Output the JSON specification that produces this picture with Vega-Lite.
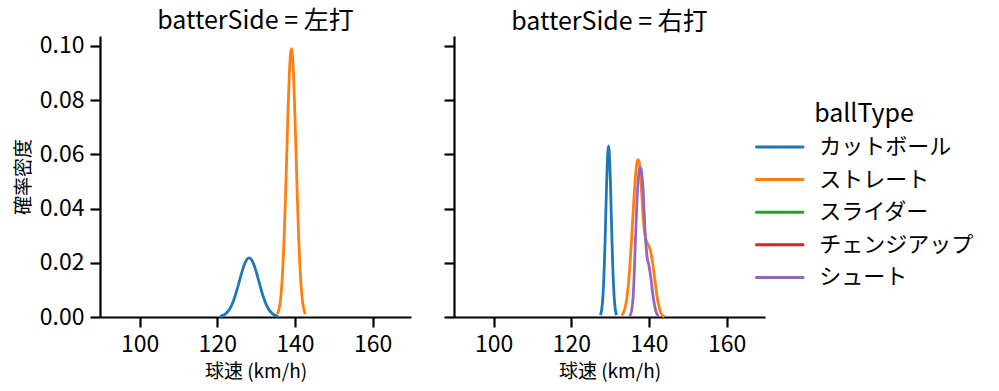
{
  "$schema": "https://vega.github.io/schema/vega-lite/v6.json",
  "padding": {"left": 14, "top": 8, "right": 5, "bottom": 5},
  "config": {
    "font": "Noto Sans CJK JP",
    "view": {"stroke": null},
    "axis": {"grid": false, "domainColor": "black", "domainWidth": 2.2, "tickColor": "black", "tickWidth": 2.2, "tickSize": 10, "labelFontSize": 23, "labelColor": "black", "titleFontSize": 19, "titleFontWeight": "normal", "titleColor": "black", "labelPadding": 6, "titlePadding": 6},
    "title": {"fontSize": 25, "fontWeight": "normal", "color": "black"},
    "legend": {"symbolType": "M-2,0H2", "symbolStrokeWidth": 3, "symbolSize": 600, "symbolOffset": 10.75, "labelFontSize": 22, "labelColor": "black", "titleFontSize": 25, "titleFontWeight": "normal", "titleColor": "black", "labelOffset": 25.5, "titleAnchor": "middle", "rowPadding": 7.6, "titlePadding": 6, "padding": 0}
  },
  "data": {"values": [
    {"side": "左打", "type": "カットボール", "speed": 120.7, "density": 0.00024},
    {"side": "左打", "type": "カットボール", "speed": 121.33, "density": 0.0005},
    {"side": "左打", "type": "カットボール", "speed": 121.95, "density": 0.00096},
    {"side": "左打", "type": "カットボール", "speed": 122.58, "density": 0.00174},
    {"side": "左打", "type": "カットボール", "speed": 123.2, "density": 0.00295},
    {"side": "左打", "type": "カットボール", "speed": 123.83, "density": 0.00472},
    {"side": "左打", "type": "カットボール", "speed": 124.45, "density": 0.00708},
    {"side": "左打", "type": "カットボール", "speed": 125.08, "density": 0.00998},
    {"side": "左打", "type": "カットボール", "speed": 125.7, "density": 0.01322},
    {"side": "左打", "type": "カットボール", "speed": 126.33, "density": 0.01645},
    {"side": "左打", "type": "カットボール", "speed": 126.95, "density": 0.01924},
    {"side": "左打", "type": "カットボール", "speed": 127.58, "density": 0.02113},
    {"side": "左打", "type": "カットボール", "speed": 128.2, "density": 0.0218},
    {"side": "左打", "type": "カットボール", "speed": 128.83, "density": 0.02113},
    {"side": "左打", "type": "カットボール", "speed": 129.45, "density": 0.01924},
    {"side": "左打", "type": "カットボール", "speed": 130.08, "density": 0.01645},
    {"side": "左打", "type": "カットボール", "speed": 130.7, "density": 0.01322},
    {"side": "左打", "type": "カットボール", "speed": 131.33, "density": 0.00998},
    {"side": "左打", "type": "カットボール", "speed": 131.95, "density": 0.00708},
    {"side": "左打", "type": "カットボール", "speed": 132.58, "density": 0.00472},
    {"side": "左打", "type": "カットボール", "speed": 133.2, "density": 0.00295},
    {"side": "左打", "type": "カットボール", "speed": 133.83, "density": 0.00174},
    {"side": "左打", "type": "カットボール", "speed": 134.45, "density": 0.00096},
    {"side": "左打", "type": "カットボール", "speed": 135.08, "density": 0.0005},
    {"side": "左打", "type": "カットボール", "speed": 135.7, "density": 0.00024},
    {"side": "左打", "type": "ストレート", "speed": 135.5, "density": 0.0011},
    {"side": "左打", "type": "ストレート", "speed": 135.8, "density": 0.00225},
    {"side": "左打", "type": "ストレート", "speed": 136.1, "density": 0.00434},
    {"side": "左打", "type": "ストレート", "speed": 136.4, "density": 0.00787},
    {"side": "左打", "type": "ストレート", "speed": 136.7, "density": 0.01338},
    {"side": "左打", "type": "ストレート", "speed": 137.0, "density": 0.02139},
    {"side": "左打", "type": "ストレート", "speed": 137.3, "density": 0.03211},
    {"side": "左打", "type": "ストレート", "speed": 137.6, "density": 0.04528},
    {"side": "左打", "type": "ストレート", "speed": 137.9, "density": 0.05998},
    {"side": "左打", "type": "ストレート", "speed": 138.2, "density": 0.07465},
    {"side": "左打", "type": "ストレート", "speed": 138.5, "density": 0.08728},
    {"side": "左打", "type": "ストレート", "speed": 138.8, "density": 0.09585},
    {"side": "左打", "type": "ストレート", "speed": 139.1, "density": 0.0989},
    {"side": "左打", "type": "ストレート", "speed": 139.4, "density": 0.09585},
    {"side": "左打", "type": "ストレート", "speed": 139.7, "density": 0.08728},
    {"side": "左打", "type": "ストレート", "speed": 140.0, "density": 0.07465},
    {"side": "左打", "type": "ストレート", "speed": 140.3, "density": 0.05998},
    {"side": "左打", "type": "ストレート", "speed": 140.6, "density": 0.04528},
    {"side": "左打", "type": "ストレート", "speed": 140.9, "density": 0.03211},
    {"side": "左打", "type": "ストレート", "speed": 141.2, "density": 0.02139},
    {"side": "左打", "type": "ストレート", "speed": 141.5, "density": 0.01338},
    {"side": "左打", "type": "ストレート", "speed": 141.8, "density": 0.00787},
    {"side": "左打", "type": "ストレート", "speed": 142.1, "density": 0.00434},
    {"side": "左打", "type": "ストレート", "speed": 142.4, "density": 0.00225},
    {"side": "左打", "type": "ストレート", "speed": 142.7, "density": 0.0011},
    {"side": "右打", "type": "カットボール", "speed": 127.5, "density": 0.0007},
    {"side": "右打", "type": "カットボール", "speed": 127.85, "density": 0.00277},
    {"side": "右打", "type": "カットボール", "speed": 128.2, "density": 0.00852},
    {"side": "右打", "type": "カットボール", "speed": 128.375, "density": 0.01363},
    {"side": "右打", "type": "カットボール", "speed": 128.55, "density": 0.02046},
    {"side": "右打", "type": "カットボール", "speed": 128.725, "density": 0.02884},
    {"side": "右打", "type": "カットボール", "speed": 128.9, "density": 0.03821},
    {"side": "右打", "type": "カットボール", "speed": 129.075, "density": 0.04755},
    {"side": "右打", "type": "カットボール", "speed": 129.25, "density": 0.0556},
    {"side": "右打", "type": "カットボール", "speed": 129.425, "density": 0.06106},
    {"side": "右打", "type": "カットボール", "speed": 129.6, "density": 0.063},
    {"side": "右打", "type": "カットボール", "speed": 129.775, "density": 0.06106},
    {"side": "右打", "type": "カットボール", "speed": 129.95, "density": 0.0556},
    {"side": "右打", "type": "カットボール", "speed": 130.125, "density": 0.04755},
    {"side": "右打", "type": "カットボール", "speed": 130.3, "density": 0.03821},
    {"side": "右打", "type": "カットボール", "speed": 130.475, "density": 0.02884},
    {"side": "右打", "type": "カットボール", "speed": 130.65, "density": 0.02046},
    {"side": "右打", "type": "カットボール", "speed": 130.825, "density": 0.01363},
    {"side": "右打", "type": "カットボール", "speed": 131.0, "density": 0.00852},
    {"side": "右打", "type": "カットボール", "speed": 131.35, "density": 0.00277},
    {"side": "右打", "type": "カットボール", "speed": 131.7, "density": 0.0007},
    {"side": "右打", "type": "ストレート", "speed": 133.0, "density": 0.00064},
    {"side": "右打", "type": "ストレート", "speed": 133.5, "density": 0.0018},
    {"side": "右打", "type": "ストレート", "speed": 134.0, "density": 0.00426},
    {"side": "右打", "type": "ストレート", "speed": 134.5, "density": 0.009},
    {"side": "右打", "type": "ストレート", "speed": 135.0, "density": 0.0169},
    {"side": "右打", "type": "ストレート", "speed": 135.5, "density": 0.0278},
    {"side": "右打", "type": "ストレート", "speed": 136.0, "density": 0.0402},
    {"side": "右打", "type": "ストレート", "speed": 136.5, "density": 0.0512},
    {"side": "右打", "type": "ストレート", "speed": 137.0, "density": 0.0574},
    {"side": "右打", "type": "ストレート", "speed": 137.2, "density": 0.058},
    {"side": "右打", "type": "ストレート", "speed": 137.5, "density": 0.057},
    {"side": "右打", "type": "ストレート", "speed": 138.0, "density": 0.049},
    {"side": "右打", "type": "ストレート", "speed": 138.5, "density": 0.037},
    {"side": "右打", "type": "ストレート", "speed": 139.0, "density": 0.03},
    {"side": "右打", "type": "ストレート", "speed": 139.5, "density": 0.0275},
    {"side": "右打", "type": "ストレート", "speed": 140.0, "density": 0.0262},
    {"side": "右打", "type": "ストレート", "speed": 140.5, "density": 0.0238},
    {"side": "右打", "type": "ストレート", "speed": 141.0, "density": 0.0195},
    {"side": "右打", "type": "ストレート", "speed": 141.5, "density": 0.014},
    {"side": "右打", "type": "ストレート", "speed": 142.0, "density": 0.0085},
    {"side": "右打", "type": "ストレート", "speed": 142.5, "density": 0.0045},
    {"side": "右打", "type": "ストレート", "speed": 143.0, "density": 0.0018},
    {"side": "右打", "type": "ストレート", "speed": 143.5, "density": 0.0006},
    {"side": "右打", "type": "ストレート", "speed": 144.0, "density": 0.0001},
    {"side": "右打", "type": "シュート", "speed": 135.0, "density": 0.0003},
    {"side": "右打", "type": "シュート", "speed": 135.5, "density": 0.002},
    {"side": "右打", "type": "シュート", "speed": 136.0, "density": 0.009},
    {"side": "右打", "type": "シュート", "speed": 136.5, "density": 0.027},
    {"side": "右打", "type": "シュート", "speed": 137.0, "density": 0.045},
    {"side": "右打", "type": "シュート", "speed": 137.5, "density": 0.054},
    {"side": "右打", "type": "シュート", "speed": 137.8, "density": 0.0552},
    {"side": "右打", "type": "シュート", "speed": 138.0, "density": 0.0545},
    {"side": "右打", "type": "シュート", "speed": 138.5, "density": 0.047},
    {"side": "右打", "type": "シュート", "speed": 139.0, "density": 0.032},
    {"side": "右打", "type": "シュート", "speed": 139.5, "density": 0.0225},
    {"side": "右打", "type": "シュート", "speed": 140.0, "density": 0.019},
    {"side": "右打", "type": "シュート", "speed": 140.5, "density": 0.0145},
    {"side": "右打", "type": "シュート", "speed": 141.0, "density": 0.0085},
    {"side": "右打", "type": "シュート", "speed": 141.5, "density": 0.004},
    {"side": "右打", "type": "シュート", "speed": 142.0, "density": 0.0013},
    {"side": "右打", "type": "シュート", "speed": 142.5, "density": 0.0003}
  ]},
  "spacing": 31,
  "hconcat": [
    {
      "title": {"text": "batterSide = 左打", "baseline": "alphabetic", "offset": -19, "frame": "group"},
      "width": 311,
      "height": 281,
      "transform": [{"filter": "datum.side === '左打'"}],
      "mark": {"type": "line", "strokeWidth": 2.8, "interpolate": "monotone"},
      "encoding": {
        "x": {"field": "speed", "type": "quantitative", "scale": {"domain": [89.8, 169.9], "nice": false, "zero": false}, "axis": {"values": [100, 120, 140, 160], "title": "球速 (km/h)"}},
        "y": {"field": "density", "type": "quantitative", "scale": {"domain": [0, 0.1036], "nice": false}, "axis": {"values": [0, 0.02, 0.04, 0.06, 0.08, 0.1], "format": ".2f", "title": "確率密度"}},
        "color": {"field": "type", "type": "nominal", "title": "ballType", "scale": {"domain": ["カットボール", "ストレート", "スライダー", "チェンジアップ", "シュート"], "range": ["#1f77b4", "#ff7f0e", "#2ca02c", "#d62728", "#9467bd"]}, "legend": {"orient": "none", "legendX": 655, "legendY": 66}}
      }
    },
    {
      "title": {"text": "batterSide = 右打", "baseline": "alphabetic", "offset": -19, "frame": "group"},
      "width": 311,
      "height": 281,
      "transform": [{"filter": "datum.side === '右打'"}],
      "mark": {"type": "line", "strokeWidth": 2.8, "interpolate": "monotone"},
      "encoding": {
        "x": {"field": "speed", "type": "quantitative", "scale": {"domain": [89.8, 169.9], "nice": false, "zero": false}, "axis": {"values": [100, 120, 140, 160], "title": "球速 (km/h)"}},
        "y": {"field": "density", "type": "quantitative", "scale": {"domain": [0, 0.1036], "nice": false}, "axis": {"values": [0, 0.02, 0.04, 0.06, 0.08, 0.1], "labels": false, "title": null}},
        "color": {"field": "type", "type": "nominal", "title": "ballType", "scale": {"domain": ["カットボール", "ストレート", "スライダー", "チェンジアップ", "シュート"], "range": ["#1f77b4", "#ff7f0e", "#2ca02c", "#d62728", "#9467bd"]}, "legend": {"orient": "none", "legendX": 655, "legendY": 66}}
      }
    }
  ]
}
